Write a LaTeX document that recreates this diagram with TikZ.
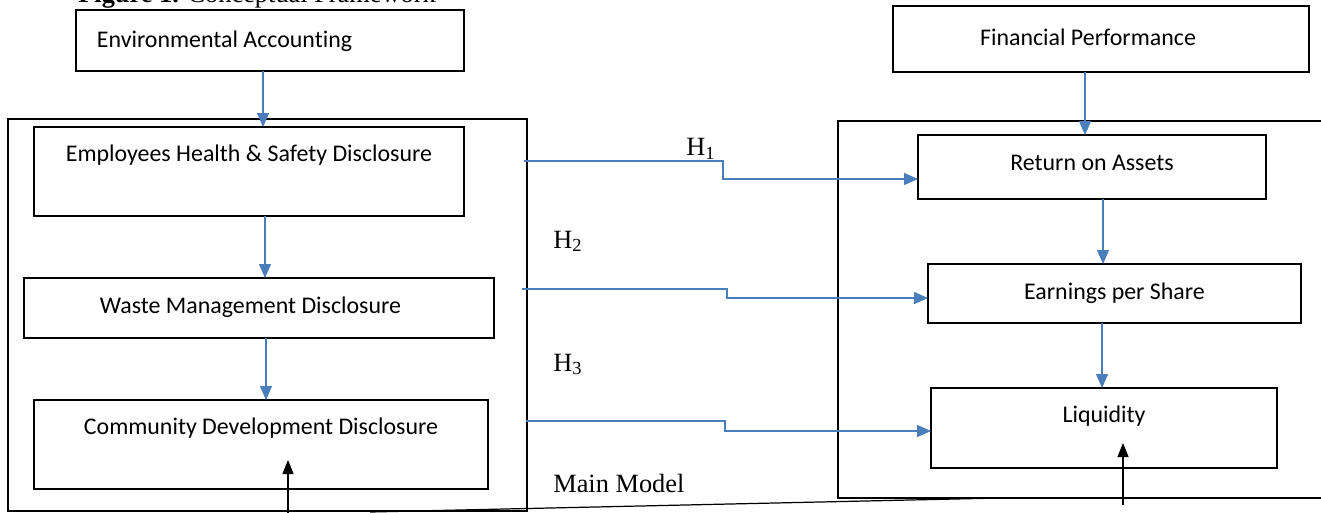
\documentclass[tikz,border=0pt]{standalone}
\usepackage{fontspec}
\setmainfont{Liberation Serif}
\newfontfamily\calib[Ligatures=NoCommon]{Carlito}
\usetikzlibrary{calc, arrows.meta}
\definecolor{arrowblue}{HTML}{4A7EBB}
\tikzset{>=latex,
  box/.style={draw, line width=1.1pt, inner sep=0pt, outer sep=0pt},
  frame/.style={draw, line width=1.1pt, inner sep=0pt, outer sep=0pt},
  txt/.style={font=\calib\fontsize{13.6}{15}\selectfont, anchor=center},
  blu/.style={arrowblue, line width=0.6pt, -{Triangle[length=0.28cm,width=0.24cm]}},
  blk/.style={black, line width=0.6pt, -{Triangle[length=0.28cm,width=0.22cm]}},
  hyp/.style={font=\fontsize{15}{17}\selectfont, anchor=base west, inner sep=0pt}
}

\begin{document}
\begin{tikzpicture}[x=0.02cm, y=-0.02cm]
\useasboundingbox (0,0) rectangle (1321,513);
\node[anchor=base west, inner sep=0pt, font=\fontsize{15}{17}\selectfont] (title) at (78,3) {\textbf{Figure 1.} Conceptual Framework};

% outer frames
\node[frame, minimum width=10.38cm, minimum height=7.84cm] (lbox) at (267.5,315) {};
\node[frame, minimum width=10.04cm, minimum height=7.54cm] (rbox) at (1089,309.5) {};

% top boxes
\node[box, minimum width=7.76cm, minimum height=1.22cm,
  label={[txt, xshift=-0.91cm, yshift=-0.62cm]north:Environmental Accounting}] (env) at (270,40.5) {};
\node[box, minimum width=8.32cm, minimum height=1.32cm,
  label={[txt, xshift=-0.26cm, yshift=-0.62cm]north:Financial Performance}] (fin) at (1101,39) {};

% left side
\node[box, fill=white, minimum width=8.6cm, minimum height=1.78cm,
  label={[txt, yshift=-0.56cm]north:Employees Health \& Safety Disclosure}] (emp) at (249,171.5) {};
\node[box, fill=white, minimum width=9.4cm, minimum height=1.2cm,
  label={[txt, xshift=-0.17cm, yshift=-0.58cm]north:Waste Management Disclosure}] (waste) at (259,308) {};
\node[box, fill=white, minimum width=9.08cm, minimum height=1.78cm,
  label={[txt, yshift=-0.56cm]north:Community Development Disclosure}] (comm) at (261,444.5) {};

% right side
\node[box, fill=white, minimum width=6.96cm, minimum height=1.28cm,
  label={[txt, yshift=-0.56cm]north:Return on Assets}] (roa) at (1092,167) {};
\node[box, fill=white, minimum width=7.46cm, minimum height=1.18cm,
  label={[txt, yshift=-0.58cm]north:Earnings per Share}] (eps) at (1114.5,293.5) {};
\node[box, fill=white, minimum width=6.92cm, minimum height=1.6cm,
  label={[txt, yshift=-0.56cm]north:Liquidity}] (liq) at (1104,428) {};

% vertical links
\draw[blu] ([xshift=-0.14cm]env.south) -- ([xshift=-0.14cm]env.south |- emp.north);
\draw[blu] ([xshift=0.32cm]emp.south) -- ([xshift=0.32cm]emp.south |- waste.north);
\draw[blu] ([xshift=0.14cm]waste.south) -- ([xshift=0.14cm]waste.south |- comm.north);
\draw[blu] ([xshift=-0.32cm]fin.south) -- ([xshift=-0.32cm]fin.south |- roa.north);
\draw[blu] ([xshift=0.22cm]roa.south) -- ([xshift=0.22cm]roa.south |- eps.north);
\draw[blu] ([xshift=-0.25cm]eps.south) -- ([xshift=-0.25cm]eps.south |- liq.north);

% hypotheses
\coordinate (h1s) at (524,161);
\coordinate (h2s) at (522,289);
\coordinate (h3s) at (526,421);
\draw[blu] (h1s) -- ++(199,0) |- ([yshift=-0.24cm]roa.west);
\draw[blu] (h2s) -- ++(205,0) |- ([yshift=-0.09cm]eps.west);
\draw[blu] (h3s) -- ++(199,0) |- ([yshift=-0.06cm]liq.west);
\node[hyp] (h1) at (686,156) {H\textsubscript{1}};
\node[hyp] (h2) at (553,248) {H\textsubscript{2}};
\node[hyp] (h3) at (553,371) {H\textsubscript{3}};
\node[hyp] (mm) at (553,492) {Main Model};

% moderating arrows
\coordinate (cb) at (288,513);
\coordinate (ct) at (288,460);
\coordinate (lb) at (1123,505);
\coordinate (lt) at (1123,443);
\draw[blk] (cb) -- (ct);
\draw[blk] (lb) -- (lt);
\coordinate (s1) at (370,512);
\coordinate (s2) at (1000,498);
\draw[line width=0.7pt] (s1) -- (s2);
\end{tikzpicture}
\end{document}
